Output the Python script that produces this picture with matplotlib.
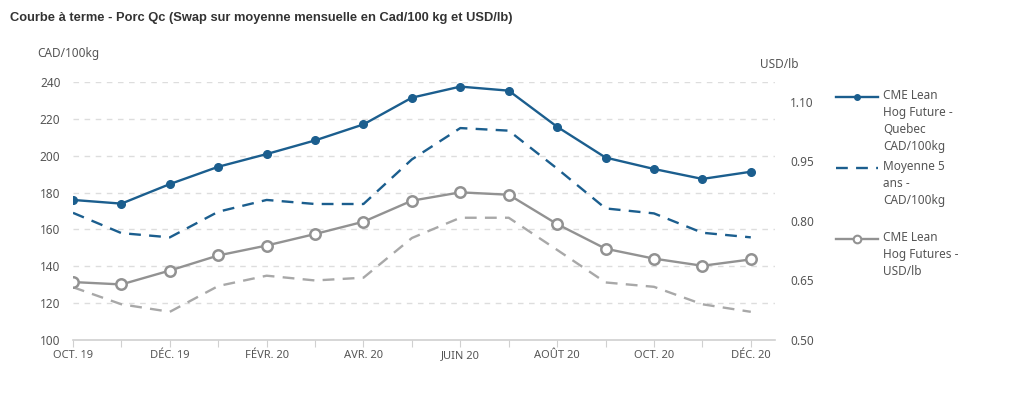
import matplotlib.pyplot as plt
from matplotlib.lines import Line2D
import numpy as np

# Données
mois = ['OCT. 19', 'NOV. 19', 'DÉC. 19', 'JANV. 20', 'FÉVR. 20', 'MARS 20', 'AVR. 20',
        'MAI 20', 'JUIN 20', 'JUIL. 20', 'AOÛT 20', 'SEPT. 20', 'OCT. 20', 'NOV. 20', 'DÉC. 20']
cme_qc_cad = [176, 174, 184.6, 194, 200.9, 208.3, 217, 231.5, 237.5, 235.3, 215.7, 199, 192.8, 187.4, 191.3]
moy5_cad = [169, 158, 155.7, 169.6, 176, 173.8, 173.8, 198, 215, 213.6, 193, 171.4, 168.7, 158.2, 155.7]
cme_usd = [0.646, 0.640, 0.675, 0.713, 0.738, 0.767, 0.798, 0.851, 0.872, 0.866, 0.792, 0.730, 0.705, 0.687, 0.703]
moy5_usd = [0.633, 0.590, 0.571, 0.636, 0.662, 0.650, 0.657, 0.757, 0.808, 0.808, 0.727, 0.645, 0.634, 0.590, 0.571]

labels_legende = ['CME Lean\nHog Future -\nQuebec\nCAD/100kg',
                  'Moyenne 5\nans -\nCAD/100kg',
                  'CME Lean\nHog Futures -\nUSD/lb']

bleu = '#1b5e8e'
gris = '#929292'
gris_clair = '#a8a8a8'
texte = '#555555'
police = 'Noto Sans'

fig = plt.figure(figsize=(10.24, 3.99), dpi=100)
ax = fig.add_axes([73/1024, 1 - 340/399, (775-73)/1024, (340-82)/399])
ax2 = ax.twinx()

x = np.arange(len(mois))

ax.plot(x, cme_qc_cad, color=bleu, lw=1.7, marker='o', ms=5.5, zorder=5)
ax.plot(x, moy5_cad, color=bleu, lw=1.7, ls=(0, (5, 3.5)), zorder=4)
ax2.plot(x, cme_usd, color=gris, lw=1.7, marker='o', ms=7.5, mfc='white', mec=gris, mew=1.8, zorder=5)
ax2.plot(x, moy5_usd, color=gris_clair, lw=1.7, ls=(0, (5, 3.5)), zorder=4)

ax.set_xlim(0, 14.5)
ax.set_ylim(100, 240)
ax2.set_ylim(0.50, 1.15)
ax.set_yticks(np.arange(100, 241, 20))
ax2.set_yticks([0.50, 0.65, 0.80, 0.95, 1.10])
ax2.set_yticklabels(['0.50', '0.65', '0.80', '0.95', '1.10'])

ax.set_xticks(x)
ax.set_xticklabels([m if i % 2 == 0 else '' for i, m in enumerate(mois)])

for a in (ax, ax2):
    for s in a.spines.values():
        s.set_visible(False)
    a.tick_params(axis='y', length=0, labelsize=8.5, labelcolor=texte)
    for t in a.get_yticklabels():
        t.set_fontfamily(police)
ax.spines['bottom'].set_visible(True)
ax.spines['bottom'].set_color('#d0d0d0')
ax.spines['bottom'].set_linewidth(1.2)
ax.tick_params(axis='x', length=5, color='#d0d0d0', labelsize=8, labelcolor=texte, pad=2)
for t in ax.get_xticklabels():
    t.set_fontfamily(police)
ax.tick_params(axis='y', pad=9)
ax2.tick_params(axis='y', pad=11)

for v in range(120, 241, 20):
    ax.axhline(v, color='#dddddd', lw=1, ls=(0, (4, 4)), zorder=0)

fig.text(37/1024, 1 - 53/399, 'CAD/100kg', fontsize=8.5, color=texte, family=police, va='center')
fig.text(760/1024, 1 - 65/399, 'USD/lb', fontsize=8.5, color=texte, family=police, va='center')

fig.text(10/1024, 1 - 18/399,
         'Courbe à terme - Porc Qc (Swap sur moyenne mensuelle en Cad/100 kg et USD/lb)',
         fontsize=9.3, fontweight='bold', color='#333333', family='Liberation Sans', va='center')

# légende à droite
styles = [dict(color=bleu, lw=1.7, marker='o', ms=4),
          dict(color=bleu, lw=1.7, ls=(0, (5, 3.5))),
          dict(color=gris, lw=1.7, marker='o', ms=5.5, mfc='white', mec=gris, mew=1.5)]
ys = [97, 168, 239]
for st, y, lab in zip(styles, ys, labels_legende):
    yf = 1 - y/399
    fig.add_artist(Line2D([836/1024, 857/1024, 878/1024], [yf, yf, yf],
                          markevery=[1] if 'marker' in st else None, **st))
    fig.text(883/1024, yf + 8/399, lab, fontsize=8.5, color=texte, family=police,
             va='top', linespacing=1.4)

fig.savefig('out.png', dpi=100)
